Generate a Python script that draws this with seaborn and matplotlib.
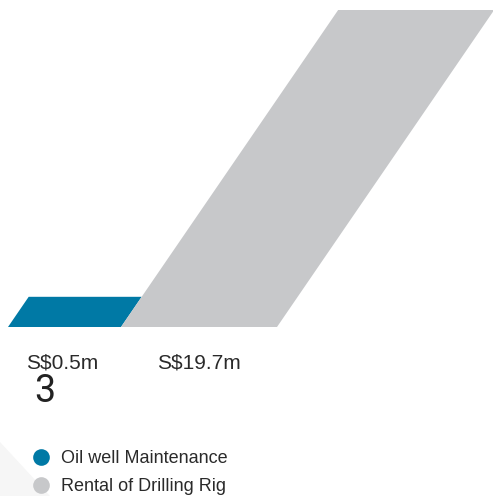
import math
import numpy as np
import pandas as pd
import matplotlib
matplotlib.use("Agg")
import matplotlib.pyplot as plt
from matplotlib.transforms import Affine2D
from matplotlib.lines import Line2D
from matplotlib.patches import Polygon
import seaborn as sns

# ---- data ----
categories = ["Oil well Maintenance", "Rental of Drilling Rig"]
values = [0.5, 19.7]          # S$ million
value_labels = ["S$0.5m", "S$19.7m"]
count_label = "3"

# ---- style ----
colors = ["#0079A5", "#C7C8CA"]
W, H, DPI = 493, 496, 100
sns.set_theme(style="white")
plt.rcParams["font.family"] = ["Liberation Sans", "DejaVu Sans"]

fig = plt.figure(figsize=(W / DPI, H / DPI), dpi=DPI)
fig.patch.set_facecolor("white")

def fx(x):
    return x / W

def fy(y_top):
    return 1 - y_top / H

# faint background triangle (decoration)
fig.patches.append(Polygon([(fx(0), fy(442)), (fx(50), fy(496)), (fx(0), fy(496))],
                           closed=True, transform=fig.transFigure,
                           facecolor="#F6F6F6", edgecolor="none", zorder=0))

# axes: baseline at y=327px, top at y=10px
base_px, top_px = 327, 10
ax = fig.add_axes([0, fy(base_px), 1, (base_px - top_px) / H])
ax.set_facecolor("none")

df = pd.DataFrame({"category": categories, "value": values})
sns.barplot(data=df, x="category", y="value", hue="category",
            palette=colors, width=1.0, ax=ax, legend=False,
            saturation=1, linewidth=0)

# power scale so that heights follow the original's stylised proportion
p = 0.64
ax.set_yscale("function", functions=(lambda v: np.power(np.clip(v, 0, None), p),
                                     lambda v: np.power(np.clip(v, 0, None), 1 / p)))
ax.set_ylim(0, max(values))

# horizontal layout of the bars (pixels at the baseline)
spans_px = [(8, 121), (121, 277)]
s = 134.5  # px per data unit
x0 = -0.5 - 8 / s
ax.set_xlim(x0, x0 + W / s)
for patch, (a, b) in zip(ax.patches, spans_px):
    patch.set_x(x0 + a / s)
    patch.set_width((b - a) / s)

ax.set_axis_off()

# skew bars in display space
fig.canvas.draw()
y0 = ax.transData.transform((0, 0))[1]
k = 0.685
skew = Affine2D().translate(0, -y0).skew(math.atan(k), 0).translate(0, y0)
for patch in ax.patches:
    patch.set_transform(ax.transData + skew)
    patch.set_clip_on(False)

# value labels
label_x = [26, 157]
for lbl, xx in zip(value_labels, label_x):
    fig.text(fx(xx), fy(363), lbl, fontsize=15, color="#2a2a2a",
             ha="left", va="center")
fig.text(fx(45), fy(391), count_label, fontsize=27, color="#222222",
         ha="center", va="center", family=["Roboto", "Liberation Sans"])

# legend
handles = [Line2D([], [], marker="o", linestyle="none", markersize=12,
                  markerfacecolor=c, markeredgecolor="none") for c in colors]
fig.legend(handles, categories, loc="upper left",
           bbox_to_anchor=(fx(30), fy(450)), frameon=False,
           fontsize=13, handletextpad=0.5, labelspacing=0.6,
           borderpad=0, borderaxespad=0, handlelength=1.2,
           labelcolor="#2a2a2a")

fig.savefig("out.png", dpi=DPI, facecolor="white")
